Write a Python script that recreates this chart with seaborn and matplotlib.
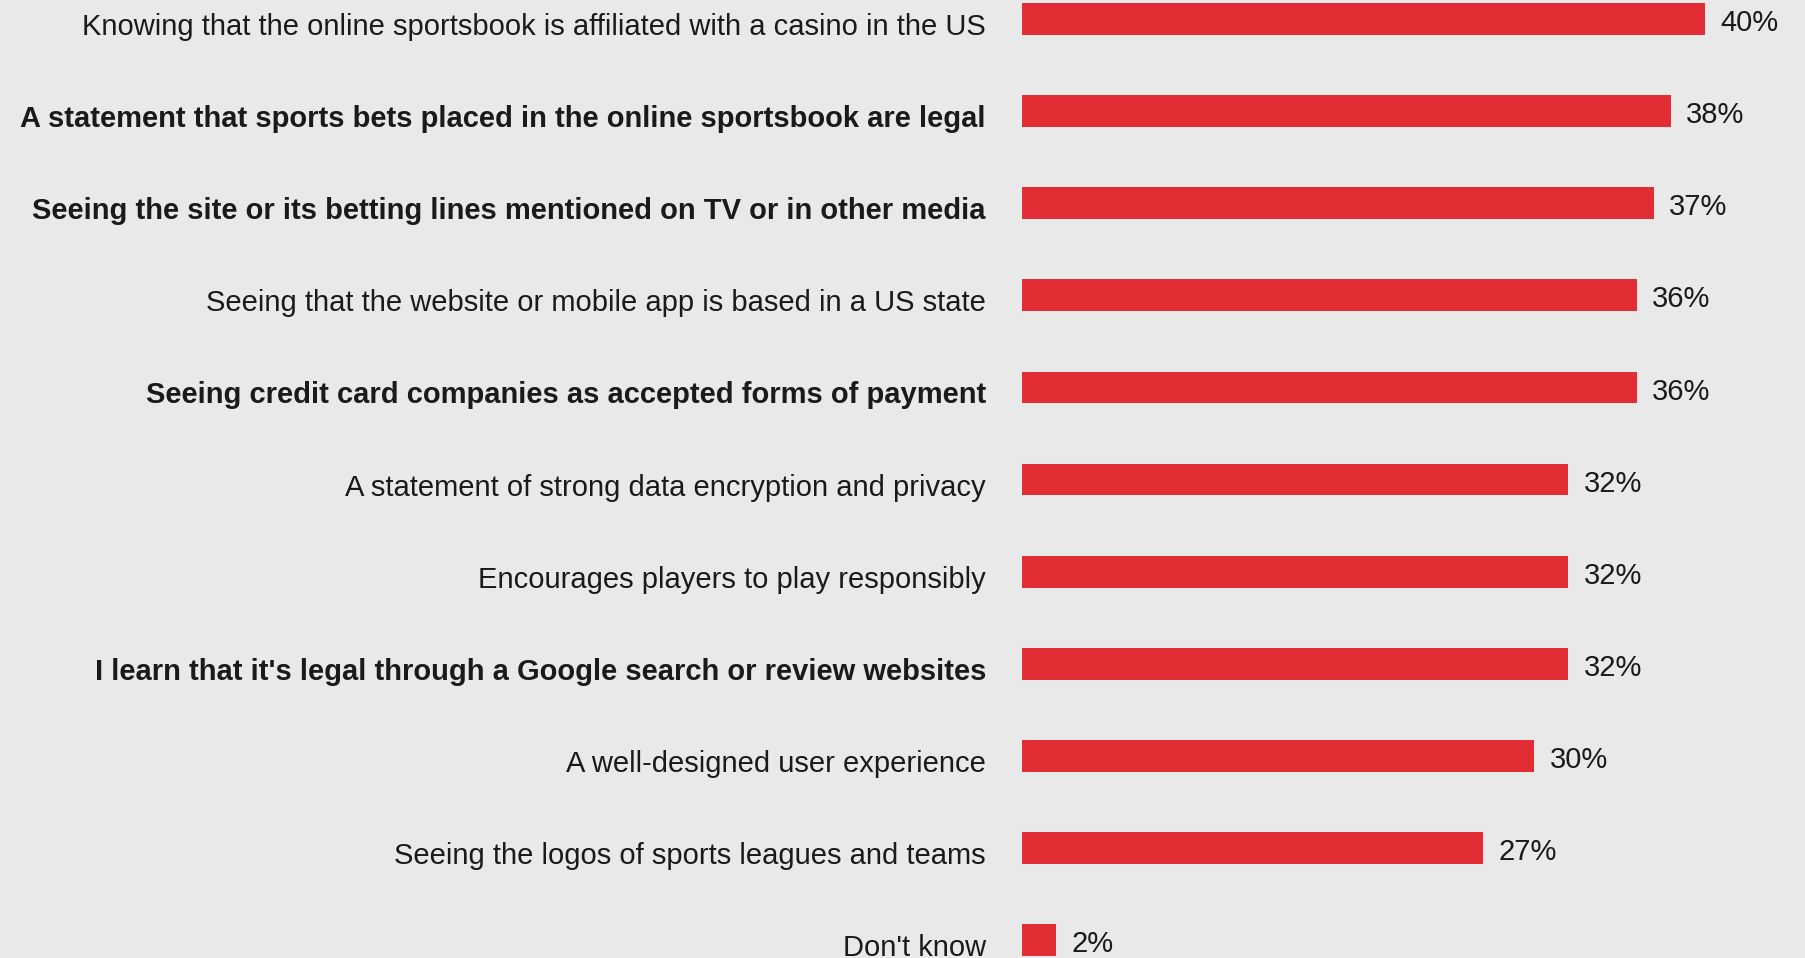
import matplotlib
matplotlib.use("Agg")
import matplotlib.pyplot as plt
import matplotlib.transforms as mtransforms
import seaborn as sns
import pandas as pd

# Data
categories = [
    "Knowing that the online sportsbook is affiliated with a casino in the US",
    "A statement that sports bets placed in the online sportsbook are legal",
    "Seeing the site or its betting lines mentioned on TV or in other media",
    "Seeing that the website or mobile app is based in a US state",
    "Seeing credit card companies as accepted forms of payment",
    "A statement of strong data encryption and privacy",
    "Encourages players to play responsibly",
    "I learn that it's legal through a Google search or review websites",
    "A well-designed user experience",
    "Seeing the logos of sports leagues and teams",
    "Don't know",
]
values = [40, 38, 37, 36, 36, 32, 32, 32, 30, 27, 2]
bold_rows = [1, 2, 4, 7]

df = pd.DataFrame({'label': categories, 'pct': values})

bg = '#e9e9e9'
bar_color = '#e12d33'
text_color = '#1a1a1a'

sns.set_style('white')
plt.rcParams['font.family'] = ['Liberation Sans', 'DejaVu Sans']

fig = plt.figure(figsize=(18.05, 9.58), dpi=100, facecolor=bg)
ax = fig.add_axes([1022 / 1805, 0, 1 - 1022 / 1805, 1])
ax.set_facecolor(bg)

sns.barplot(data=df, y='label', x='pct', orient='h', color=bar_color,
            width=0.345, saturation=1, linewidth=0, ax=ax)

ax.set_xlim(0, 783 / 17.07)
ax.set_ylim(10.195, -0.206)

# Value labels (nudged down a little, like the original)
for c in ax.containers:
    for t in ax.bar_label(c, labels=[f"{v}%" for v in values], padding=11,
                          fontsize=21, color=text_color):
        t.xyann = (t.xyann[0], t.xyann[1] - 3)

ax.set_xlabel('')
ax.set_ylabel('')
ax.set_xticks([])
ax.tick_params(axis='y', length=0, pad=26)
shift_lab = mtransforms.ScaledTranslation(0, -5 / 100, fig.dpi_scale_trans)
for i, t in enumerate(ax.get_yticklabels()):
    t.set_fontsize(21)
    t.set_color(text_color)
    t.set_transform(t.get_transform() + shift_lab)
    if i in bold_rows:
        t.set_fontweight('bold')

sns.despine(ax=ax, left=True, bottom=True)

fig.savefig('out.png', dpi=100, facecolor=bg)
